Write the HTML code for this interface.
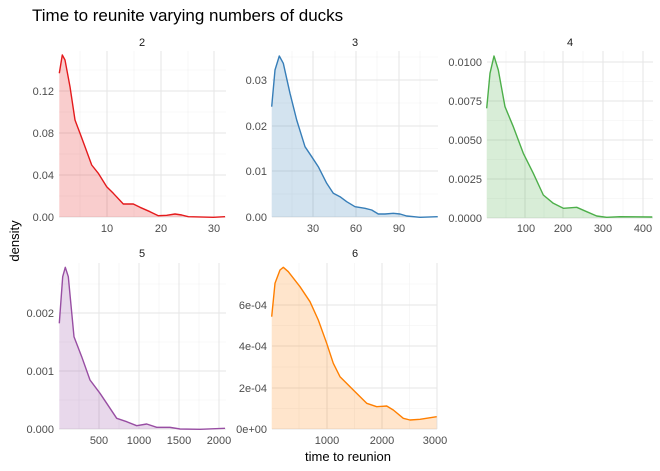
<!DOCTYPE html>
<html><head><meta charset="utf-8"><style>
body{margin:0;background:#fff}
svg{display:block}
text{font-family:"Liberation Sans",sans-serif}
.t{font-size:11px;fill:#4d4d4d}
.s{font-size:11px;fill:#1a1a1a}
.mj{stroke:#e6e6e6;stroke-width:1.1}
.mn{stroke:#f2f2f2;stroke-width:0.6}
</style></head><body>
<svg width="660" height="471" viewBox="0 0 660 471">
<text x="32" y="21" font-size="17" fill="#000">Time to reunite varying numbers of ducks</text>
<text transform="translate(19,241) rotate(-90)" font-size="13" text-anchor="middle" fill="#000">density</text>
<text x="348" y="461" font-size="13" text-anchor="middle" fill="#000">time to reunion</text>

<!-- Panel 1 -->
<text class="s" x="142" y="46" text-anchor="middle">2</text>
<g>
<line class="mn" x1="59" x2="226" y1="196" y2="196"/><line class="mn" x1="59" x2="226" y1="154" y2="154"/><line class="mn" x1="59" x2="226" y1="112" y2="112"/><line class="mn" x1="59" x2="226" y1="70" y2="70"/>
<line class="mn" x1="80" x2="80" y1="51" y2="217"/><line class="mn" x1="134" x2="134" y1="51" y2="217"/><line class="mn" x1="188" x2="188" y1="51" y2="217"/>
<line class="mj" x1="59" x2="226" y1="217" y2="217"/><line class="mj" x1="59" x2="226" y1="175" y2="175"/><line class="mj" x1="59" x2="226" y1="133" y2="133"/><line class="mj" x1="59" x2="226" y1="91" y2="91"/>
<line class="mj" x1="107" x2="107" y1="51" y2="217"/><line class="mj" x1="161" x2="161" y1="51" y2="217"/><line class="mj" x1="214" x2="214" y1="51" y2="217"/>
</g>
<polygon fill="#E41A1C" fill-opacity="0.22" points="59.3,217 59.3,73.3 62.3,55 65,60 70,86.7 75,120 80,133.3 85,146.7 91.7,165 98.3,173.3 106.7,186.7 113.3,193.3 123.3,204 133.3,204 140,207.3 150,211.7 158.3,215.7 166.7,215.3 175,214 181.7,215 188.3,216.7 213.3,217.3 225,216.7 225,217"/>
<polyline fill="none" stroke="#E41A1C" stroke-width="1.4" stroke-linejoin="round" points="59.3,73.3 62.3,55 65,60 70,86.7 75,120 80,133.3 85,146.7 91.7,165 98.3,173.3 106.7,186.7 113.3,193.3 123.3,204 133.3,204 140,207.3 150,211.7 158.3,215.7 166.7,215.3 175,214 181.7,215 188.3,216.7 213.3,217.3 225,216.7"/>
<g class="t" text-anchor="end"><text x="54" y="221">0.00</text><text x="54" y="179">0.04</text><text x="54" y="137">0.08</text><text x="54" y="95">0.12</text></g>
<g class="t" text-anchor="middle"><text x="107" y="232">10</text><text x="161" y="232">20</text><text x="214" y="232">30</text></g>

<!-- Panel 2 -->
<text class="s" x="355" y="46" text-anchor="middle">3</text>
<g>
<line class="mn" x1="272" x2="438" y1="194" y2="194"/><line class="mn" x1="272" x2="438" y1="148.5" y2="148.5"/><line class="mn" x1="272" x2="438" y1="103" y2="103"/><line class="mn" x1="272" x2="438" y1="57" y2="57"/>
<line class="mn" x1="292" x2="292" y1="51" y2="217"/><line class="mn" x1="335" x2="335" y1="51" y2="217"/><line class="mn" x1="377" x2="377" y1="51" y2="217"/><line class="mn" x1="420" x2="420" y1="51" y2="217"/>
<line class="mj" x1="272" x2="438" y1="217" y2="217"/><line class="mj" x1="272" x2="438" y1="171" y2="171"/><line class="mj" x1="272" x2="438" y1="126" y2="126"/><line class="mj" x1="272" x2="438" y1="80" y2="80"/>
<line class="mj" x1="313" x2="313" y1="51" y2="217"/><line class="mj" x1="356" x2="356" y1="51" y2="217"/><line class="mj" x1="399" x2="399" y1="51" y2="217"/>
</g>
<polygon fill="#377EB8" fill-opacity="0.22" points="271.7,217 271.7,106.7 275,70 279.3,56 283.3,63.3 290,93.3 296.7,120 305,146.7 311.7,156.7 318.3,166.7 326.7,183.3 333.3,193.3 340,196.7 346.7,201.7 355,206.7 365,208.3 371.7,210 378.3,214 385,214 393.3,213.3 400,214 406.7,216 420,217.3 437.7,216.7 437.7,217"/>
<polyline fill="none" stroke="#377EB8" stroke-width="1.4" stroke-linejoin="round" points="271.7,106.7 275,70 279.3,56 283.3,63.3 290,93.3 296.7,120 305,146.7 311.7,156.7 318.3,166.7 326.7,183.3 333.3,193.3 340,196.7 346.7,201.7 355,206.7 365,208.3 371.7,210 378.3,214 385,214 393.3,213.3 400,214 406.7,216 420,217.3 437.7,216.7"/>
<g class="t" text-anchor="end"><text x="267" y="221">0.00</text><text x="267" y="175">0.01</text><text x="267" y="130">0.02</text><text x="267" y="84">0.03</text></g>
<g class="t" text-anchor="middle"><text x="313" y="232">30</text><text x="356" y="232">60</text><text x="399" y="232">90</text></g>

<!-- Panel 3 -->
<text class="s" x="570" y="46" text-anchor="middle">4</text>
<g>
<line class="mn" x1="487" x2="653" y1="198.5" y2="198.5"/><line class="mn" x1="487" x2="653" y1="159.5" y2="159.5"/><line class="mn" x1="487" x2="653" y1="120.5" y2="120.5"/><line class="mn" x1="487" x2="653" y1="81.5" y2="81.5"/>
<line class="mn" x1="506" x2="506" y1="51" y2="218"/><line class="mn" x1="544" x2="544" y1="51" y2="218"/><line class="mn" x1="583" x2="583" y1="51" y2="218"/><line class="mn" x1="623" x2="623" y1="51" y2="218"/>
<line class="mj" x1="487" x2="653" y1="218" y2="218"/><line class="mj" x1="487" x2="653" y1="179" y2="179"/><line class="mj" x1="487" x2="653" y1="140" y2="140"/><line class="mj" x1="487" x2="653" y1="101" y2="101"/><line class="mj" x1="487" x2="653" y1="62" y2="62"/>
<line class="mj" x1="525" x2="525" y1="51" y2="218"/><line class="mj" x1="563" x2="563" y1="51" y2="218"/><line class="mj" x1="603" x2="603" y1="51" y2="218"/><line class="mj" x1="643" x2="643" y1="51" y2="218"/>
</g>
<polygon fill="#4DAF4A" fill-opacity="0.22" points="486.7,218 486.7,108.3 490,73.3 494,56 498.3,70 505,106.7 513.3,126.7 523.3,153.3 533.3,173.3 543.3,195 553.3,203.3 563.3,208.3 576.7,207.3 586.7,211.7 596.7,216 606.7,217.3 620,216.7 652.3,217 652.3,218"/>
<polyline fill="none" stroke="#4DAF4A" stroke-width="1.4" stroke-linejoin="round" points="486.7,108.3 490,73.3 494,56 498.3,70 505,106.7 513.3,126.7 523.3,153.3 533.3,173.3 543.3,195 553.3,203.3 563.3,208.3 576.7,207.3 586.7,211.7 596.7,216 606.7,217.3 620,216.7 652.3,217"/>
<g class="t" text-anchor="end"><text x="482" y="222">0.0000</text><text x="482" y="183">0.0025</text><text x="482" y="144">0.0050</text><text x="482" y="105">0.0075</text><text x="482" y="66">0.0100</text></g>
<g class="t" text-anchor="middle"><text x="526" y="232">100</text><text x="563" y="232">200</text><text x="603" y="232">300</text><text x="643" y="232">400</text></g>

<!-- Panel 5 -->
<text class="s" x="142" y="257" text-anchor="middle">5</text>
<g>
<line class="mn" x1="59" x2="226" y1="400" y2="400"/><line class="mn" x1="59" x2="226" y1="342" y2="342"/><line class="mn" x1="59" x2="226" y1="284" y2="284"/>
<line class="mn" x1="79" x2="79" y1="263" y2="429"/><line class="mn" x1="119" x2="119" y1="263" y2="429"/><line class="mn" x1="159" x2="159" y1="263" y2="429"/><line class="mn" x1="199" x2="199" y1="263" y2="429"/>
<line class="mj" x1="59" x2="226" y1="429" y2="429"/><line class="mj" x1="59" x2="226" y1="371" y2="371"/><line class="mj" x1="59" x2="226" y1="313" y2="313"/>
<line class="mj" x1="99" x2="99" y1="263" y2="429"/><line class="mj" x1="139" x2="139" y1="263" y2="429"/><line class="mj" x1="179" x2="179" y1="263" y2="429"/><line class="mj" x1="219" x2="219" y1="263" y2="429"/>
</g>
<polygon fill="#984EA3" fill-opacity="0.22" points="59.3,429 59.3,323.3 62.7,276.7 65.3,267.3 68.3,276.7 74,336.7 81.7,356.7 90,380 100,393.3 106.7,403.3 116.7,418.3 126.7,421.7 136.7,425.7 146.7,424 156.7,427.3 170,427.3 180,429 200,429.3 225,428.3 225,429"/>
<polyline fill="none" stroke="#984EA3" stroke-width="1.4" stroke-linejoin="round" points="59.3,323.3 62.7,276.7 65.3,267.3 68.3,276.7 74,336.7 81.7,356.7 90,380 100,393.3 106.7,403.3 116.7,418.3 126.7,421.7 136.7,425.7 146.7,424 156.7,427.3 170,427.3 180,429 200,429.3 225,428.3"/>
<g class="t" text-anchor="end"><text x="54" y="433">0.000</text><text x="54" y="375">0.001</text><text x="54" y="317">0.002</text></g>
<g class="t" text-anchor="middle"><text x="99" y="444">500</text><text x="139" y="444">1000</text><text x="179" y="444">1500</text><text x="219" y="444">2000</text></g>

<!-- Panel 6 -->
<text class="s" x="355" y="257" text-anchor="middle">6</text>
<g>
<line class="mn" x1="272" x2="437" y1="408.5" y2="408.5"/><line class="mn" x1="272" x2="437" y1="367" y2="367"/><line class="mn" x1="272" x2="437" y1="325.5" y2="325.5"/><line class="mn" x1="272" x2="437" y1="284" y2="284"/>
<line class="mn" x1="299" x2="299" y1="263" y2="429"/><line class="mn" x1="354.5" x2="354.5" y1="263" y2="429"/><line class="mn" x1="409.5" x2="409.5" y1="263" y2="429"/>
<line class="mj" x1="272" x2="437" y1="429" y2="429"/><line class="mj" x1="272" x2="437" y1="388" y2="388"/><line class="mj" x1="272" x2="437" y1="346" y2="346"/><line class="mj" x1="272" x2="437" y1="305" y2="305"/>
<line class="mj" x1="327" x2="327" y1="263" y2="429"/><line class="mj" x1="382" x2="382" y1="263" y2="429"/><line class="mj" x1="437" x2="437" y1="263" y2="429"/>
</g>
<polygon fill="#FF7F00" fill-opacity="0.2" points="271.7,429 271.7,316.7 275,283.3 280,270 283.3,267.3 288.3,271.7 300,286.7 310,301.7 318.3,320 326.7,343.3 333.3,363.3 340,376.7 353.3,390 366.7,403.3 376.7,406.7 386.7,406 393.3,410 403.3,418.3 410,420 420,419.3 436.7,416.7 436.7,429"/>
<polyline fill="none" stroke="#FF7F00" stroke-width="1.4" stroke-linejoin="round" points="271.7,316.7 275,283.3 280,270 283.3,267.3 288.3,271.7 300,286.7 310,301.7 318.3,320 326.7,343.3 333.3,363.3 340,376.7 353.3,390 366.7,403.3 376.7,406.7 386.7,406 393.3,410 403.3,418.3 410,420 420,419.3 436.7,416.7"/>
<g class="t" text-anchor="end"><text x="267" y="433">0e+00</text><text x="267" y="392">2e-04</text><text x="267" y="350">4e-04</text><text x="267" y="309">6e-04</text></g>
<g class="t" text-anchor="middle"><text x="327" y="444">1000</text><text x="382" y="444">2000</text><text x="435" y="444">3000</text></g>
</svg>
</body></html>
